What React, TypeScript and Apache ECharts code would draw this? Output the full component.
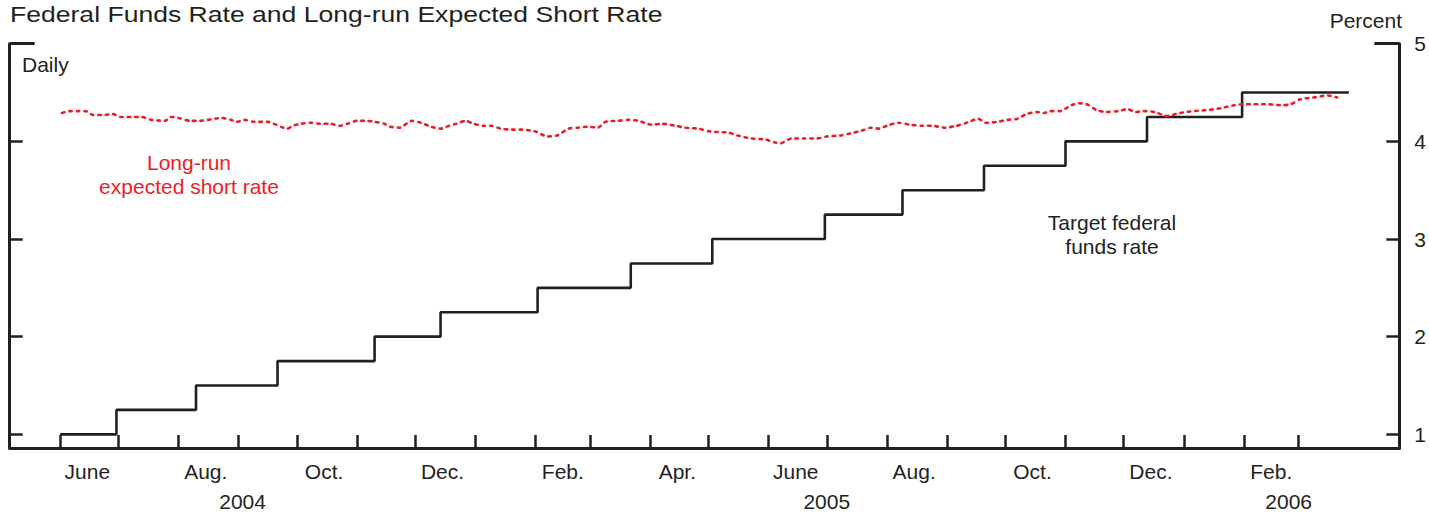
import React, { useEffect, useRef } from 'react';
import * as echarts from 'echarts';

const TITLE = 'Federal Funds Rate and Long-run Expected Short Rate';
const FREQ_NOTE = 'Daily';
const UNIT_NOTE = 'Percent';
const LONG_RUN_NOTE = 'Long-run\nexpected short rate';
const TARGET_NOTE = 'Target federal\nfunds rate';

const X_MIN = '2004-05-06';
const X_MAX = '2006-04-22';
const Y_MIN = 0.86;
const Y_MAX = 5;

// Target federal funds rate: [date of change, new rate]
const targetRate: [string, number][] = [
  ['2004-06-01', 1.0], ['2004-06-30', 1.25], ['2004-08-10', 1.5], ['2004-09-21', 1.75],
  ['2004-11-10', 2.0], ['2004-12-14', 2.25], ['2005-02-02', 2.5], ['2005-03-22', 2.75],
  ['2005-05-03', 3.0], ['2005-06-30', 3.25], ['2005-08-09', 3.5], ['2005-09-20', 3.75],
  ['2005-11-01', 4.0], ['2005-12-13', 4.25], ['2006-01-31', 4.5], ['2006-03-27', 4.5],
];

// Long-run expected short rate
const longRunRate: [string, number][] = [
  ['2004-06-02', 4.29], ['2004-06-06', 4.31], ['2004-06-10', 4.31], ['2004-06-14', 4.31],
  ['2004-06-18', 4.27], ['2004-06-24', 4.27], ['2004-06-28', 4.28], ['2004-07-02', 4.25],
  ['2004-07-09', 4.25], ['2004-07-13', 4.25], ['2004-07-18', 4.22], ['2004-07-25', 4.21],
  ['2004-07-28', 4.25], ['2004-08-01', 4.24], ['2004-08-07', 4.21], ['2004-08-12', 4.21],
  ['2004-08-16', 4.22], ['2004-08-23', 4.24], ['2004-08-28', 4.22], ['2004-08-31', 4.20],
  ['2004-09-04', 4.22], ['2004-09-09', 4.20], ['2004-09-16', 4.20], ['2004-09-19', 4.18],
  ['2004-09-24', 4.14], ['2004-09-26', 4.13], ['2004-09-29', 4.16], ['2004-10-03', 4.18],
  ['2004-10-08', 4.19], ['2004-10-13', 4.18], ['2004-10-18', 4.18], ['2004-10-23', 4.16],
  ['2004-10-27', 4.18], ['2004-11-01', 4.21], ['2004-11-06', 4.21], ['2004-11-10', 4.20],
  ['2004-11-15', 4.18], ['2004-11-18', 4.15], ['2004-11-23', 4.14], ['2004-11-29', 4.21],
  ['2004-12-04', 4.19], ['2004-12-09', 4.15], ['2004-12-14', 4.13], ['2004-12-17', 4.15],
  ['2004-12-22', 4.18], ['2004-12-27', 4.21], ['2004-12-31', 4.18], ['2005-01-05', 4.16],
  ['2005-01-09', 4.16], ['2005-01-14', 4.13], ['2005-01-20', 4.12], ['2005-01-25', 4.12],
  ['2005-02-01', 4.10], ['2005-02-07', 4.05], ['2005-02-12', 4.06], ['2005-02-18', 4.13],
  ['2005-02-23', 4.14], ['2005-02-28', 4.15], ['2005-03-05', 4.14], ['2005-03-09', 4.20],
  ['2005-03-15', 4.21], ['2005-03-21', 4.22], ['2005-03-26', 4.21], ['2005-04-02', 4.17],
  ['2005-04-07', 4.18], ['2005-04-14', 4.16], ['2005-04-19', 4.14], ['2005-04-26', 4.13],
  ['2005-05-02', 4.10], ['2005-05-11', 4.09], ['2005-05-16', 4.06], ['2005-05-23', 4.03],
  ['2005-05-30', 4.02], ['2005-06-04', 3.99], ['2005-06-07', 3.98], ['2005-06-13', 4.03],
  ['2005-06-19', 4.03], ['2005-06-26', 4.03], ['2005-07-01', 4.05], ['2005-07-08', 4.06],
  ['2005-07-13', 4.08], ['2005-07-19', 4.11], ['2005-07-24', 4.14], ['2005-07-28', 4.13],
  ['2005-08-01', 4.16], ['2005-08-07', 4.19], ['2005-08-13', 4.17], ['2005-08-19', 4.16],
  ['2005-08-24', 4.16], ['2005-08-31', 4.14], ['2005-09-06', 4.16], ['2005-09-11', 4.19],
  ['2005-09-17', 4.23], ['2005-09-21', 4.19], ['2005-09-27', 4.20], ['2005-10-02', 4.22],
  ['2005-10-07', 4.23], ['2005-10-12', 4.28], ['2005-10-17', 4.30], ['2005-10-21', 4.29],
  ['2005-10-24', 4.31], ['2005-10-29', 4.31], ['2005-11-04', 4.37], ['2005-11-08', 4.39],
  ['2005-11-12', 4.38], ['2005-11-17', 4.32], ['2005-11-22', 4.30], ['2005-11-28', 4.31],
  ['2005-12-03', 4.33], ['2005-12-07', 4.30], ['2005-12-11', 4.31], ['2005-12-17', 4.30],
  ['2005-12-23', 4.26], ['2005-12-30', 4.29], ['2006-01-06', 4.31], ['2006-01-13', 4.32],
  ['2006-01-20', 4.34], ['2006-01-27', 4.37], ['2006-02-01', 4.38], ['2006-02-06', 4.38],
  ['2006-02-13', 4.38], ['2006-02-20', 4.37], ['2006-02-25', 4.38], ['2006-03-02', 4.43],
  ['2006-03-09', 4.45], ['2006-03-16', 4.47], ['2006-03-21', 4.45],
];

const monthTicks: string[] = [
  '2004-06-01', '2004-07-01', '2004-08-01', '2004-09-01', '2004-10-01', '2004-11-01',
  '2004-12-01', '2005-01-01', '2005-02-01', '2005-03-01', '2005-04-01', '2005-05-01',
  '2005-06-01', '2005-07-01', '2005-08-01', '2005-09-01', '2005-10-01', '2005-11-01',
  '2005-12-01', '2006-01-01', '2006-02-01', '2006-03-01',
];

const monthLabels: [string, string][] = [
  ['2004-06-15', 'June'], ['2004-08-15', 'Aug.'], ['2004-10-15', 'Oct.'], ['2004-12-15', 'Dec.'],
  ['2005-02-15', 'Feb.'], ['2005-04-15', 'Apr.'], ['2005-06-15', 'June'], ['2005-08-15', 'Aug.'],
  ['2005-10-15', 'Oct.'], ['2005-12-15', 'Dec.'], ['2006-02-15', 'Feb.'],
];

const yearLabels: [string, string][] = [
  ['2004-09-03', '2004'], ['2005-07-01', '2005'], ['2006-02-24', '2006'],
];

const yTicks = [1, 2, 3, 4];
const yTopTick = [5];
const yLabels = [1, 2, 3, 4, 5];

const INK = '#231f20';
const RED = '#ed1c24';
const FONT = '"Liberation Sans", Arial, Helvetica, sans-serif';

// date string -> timestamp (day resolution), used on a linear value axis
const ts = (s: string) => {
  const [y, m, d] = s.split('-').map(Number);
  return Date.UTC(y, m - 1, d);
};

export default function App() {
  const ref = useRef<HTMLDivElement>(null);

  useEffect(() => {
    if (!ref.current) return;
    const chart = echarts.init(ref.current, null, { renderer: 'svg' });

    const monthMap: Record<string, string> = {};
    monthLabels.forEach(([d, l]) => (monthMap[String(ts(d))] = l));
    const yearMap: Record<string, string> = {};
    yearLabels.forEach(([d, l]) => (yearMap[String(ts(d))] = l));

    const axisLineStyle = { color: INK, width: 3 };
    const tickLineStyle = { color: INK, width: 2.5 };

    const xBase = {
      type: 'value',
      min: ts(X_MIN),
      max: ts(X_MAX),
      position: 'bottom',
      splitLine: { show: false },
    };

    const yBase = {
      type: 'value',
      min: Y_MIN,
      max: Y_MAX,
      splitLine: { show: false },
    };

    chart.setOption({
      animation: false,
      backgroundColor: '#ffffff',
      grid: { left: 9.7, right: 27.7, top: 43.7, bottom: 63.3, containLabel: false },
      xAxis: [
        {
          ...xBase,
          axisLine: { show: true, onZero: false, lineStyle: axisLineStyle },
          axisTick: {
            show: true,
            inside: true,
            length: 13,
            customValues: monthTicks.map(ts),
            lineStyle: tickLineStyle,
          },
          axisLabel: {
            customValues: monthLabels.map(([d]) => ts(d)),
            formatter: (v: number) => monthMap[String(v)] ?? '',
            margin: 13,
            fontSize: 21,
            fontFamily: FONT,
            color: INK,
          },
        },
        {
          ...xBase,
          offset: 30,
          axisLine: { show: false, onZero: false },
          axisTick: { show: false },
          axisLabel: {
            customValues: yearLabels.map(([d]) => ts(d)),
            formatter: (v: number) => yearMap[String(v)] ?? '',
            margin: 13,
            fontSize: 21,
            fontFamily: FONT,
            color: INK,
          },
        },
      ],
      yAxis: [
        {
          ...yBase,
          position: 'right',
          axisLine: { show: true, onZero: false, lineStyle: axisLineStyle },
          axisTick: { show: true, inside: true, length: 13, customValues: yTicks, lineStyle: tickLineStyle },
          axisLabel: { customValues: yLabels, margin: 15, fontSize: 21, fontFamily: FONT, color: INK },
        },
        {
          ...yBase,
          position: 'left',
          axisLine: { show: true, onZero: false, lineStyle: axisLineStyle },
          axisTick: { show: true, inside: true, length: 13, customValues: yTicks, lineStyle: tickLineStyle },
          axisLabel: { show: false },
        },
        {
          ...yBase,
          position: 'left',
          axisLine: { show: false, onZero: false },
          axisTick: { show: true, inside: true, length: 25, customValues: yTopTick, lineStyle: axisLineStyle },
          axisLabel: { show: false },
        },
        {
          ...yBase,
          position: 'right',
          axisLine: { show: false, onZero: false },
          axisTick: { show: true, inside: true, length: 25, customValues: yTopTick, lineStyle: axisLineStyle },
          axisLabel: { show: false },
        },
      ],
      series: [
        {
          name: 'Target federal funds rate',
          type: 'line',
          step: 'end',
          xAxisIndex: 0,
          yAxisIndex: 0,
          symbol: 'none',
          data: targetRate.map(([d, v]) => [ts(d), v]),
          lineStyle: { color: INK, width: 2.6 },
          z: 3,
        },
        {
          name: 'Long-run expected short rate',
          type: 'line',
          xAxisIndex: 0,
          yAxisIndex: 0,
          symbol: 'none',
          smooth: 0.25,
          data: longRunRate.map(([d, v]) => [ts(d), v]),
          lineStyle: { color: RED, width: 2.6, type: [2.5, 5], cap: 'round' },
          z: 4,
        },
      ],
      graphic: [
        {
          type: 'text',
          x: 10,
          y: 14.7,
          scaleX: 1.208,
          style: { text: TITLE, fontSize: 22, fontFamily: FONT, fill: INK, align: 'left', verticalAlign: 'middle' },
        },
        {
          type: 'text',
          x: 22,
          y: 64.5,
          style: { text: FREQ_NOTE, fontSize: 21, fontFamily: FONT, fill: INK, align: 'left', verticalAlign: 'middle' },
        },
        {
          type: 'text',
          x: 1402,
          y: 20.3,
          style: { text: UNIT_NOTE, fontSize: 21, fontFamily: FONT, fill: INK, align: 'right', verticalAlign: 'middle' },
        },
        {
          type: 'text',
          x: 189,
          y: 174.5,
          style: {
            text: LONG_RUN_NOTE, fontSize: 21, lineHeight: 24, fontFamily: FONT, fill: RED,
            align: 'center', verticalAlign: 'middle',
          },
        },
        {
          type: 'text',
          x: 1112,
          y: 234,
          style: {
            text: TARGET_NOTE, fontSize: 21, lineHeight: 24, fontFamily: FONT, fill: INK,
            align: 'center', verticalAlign: 'middle',
          },
        },
      ],
    });

    return () => chart.dispose();
  }, []);

  return (
    <div
      ref={ref}
      style={{ position: 'fixed', left: 0, top: 0, width: 1429, height: 512, background: '#fff' }}
    />
  );
}
